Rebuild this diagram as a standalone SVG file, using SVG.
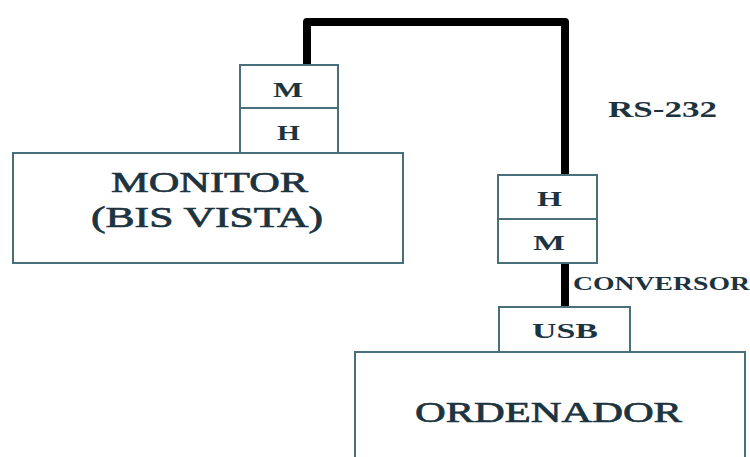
<svg xmlns="http://www.w3.org/2000/svg" width="750" height="457" viewBox="0 0 750 457">
<style>
.box{fill:#ffffff;stroke:#4a6f7c;stroke-width:2}
.cable{fill:none;stroke:#000000;stroke-width:8;stroke-linejoin:round}
text{font-family:'Liberation Serif','Times New Roman','DejaVu Serif',serif;fill:#1c3340}
.r{stroke:#1c3340;stroke-width:0.7}
.b{font-weight:bold}
</style>
<rect width="750" height="457" fill="#ffffff"/>
<g id="connectors">
<path class="cable" d="M307,65 V22 H565 V175"/>
<path class="cable" d="M565,263 V307"/>
</g>
<g id="monitor">
<rect class="box" x="13" y="153" width="390" height="110"/>
<text class="r" x="111" y="192" font-size="30" textLength="197" lengthAdjust="spacingAndGlyphs">MONITOR</text>
<text class="r" x="91" y="227" font-size="30" textLength="232" lengthAdjust="spacingAndGlyphs">(BIS VISTA)</text>
</g>
<g id="monitor-port">
<rect class="box" x="240" y="65" width="98" height="88"/>
<line class="box" x1="240" y1="108" x2="338" y2="108"/>
<text class="b" x="273" y="97" font-size="21" textLength="30" lengthAdjust="spacingAndGlyphs">M</text>
<text class="b" x="277" y="140" font-size="21" textLength="23" lengthAdjust="spacingAndGlyphs">H</text>
</g>
<g id="conversor-port">
<rect class="box" x="498" y="175" width="99" height="88"/>
<line class="box" x1="498" y1="219" x2="597" y2="219"/>
<text class="b" x="537" y="206" font-size="21" textLength="25" lengthAdjust="spacingAndGlyphs">H</text>
<text class="b" x="533" y="250" font-size="21" textLength="32" lengthAdjust="spacingAndGlyphs">M</text>
</g>
<g id="rs232-label">
<text class="b" x="608" y="117" font-size="23" textLength="109" lengthAdjust="spacingAndGlyphs">RS-232</text>
</g>
<g id="conversor-label">
<text class="b" x="573" y="290" font-size="19" textLength="177" lengthAdjust="spacingAndGlyphs">CONVERSOR</text>
</g>
<g id="usb">
<rect class="box" x="499" y="307" width="131" height="45"/>
<text class="b" x="532" y="338" font-size="21" textLength="66" lengthAdjust="spacingAndGlyphs">USB</text>
</g>
<g id="ordenador">
<rect class="box" x="355" y="352" width="390" height="115"/>
<text class="r" x="415" y="422" font-size="30" textLength="267" lengthAdjust="spacingAndGlyphs">ORDENADOR</text>
</g>
</svg>
